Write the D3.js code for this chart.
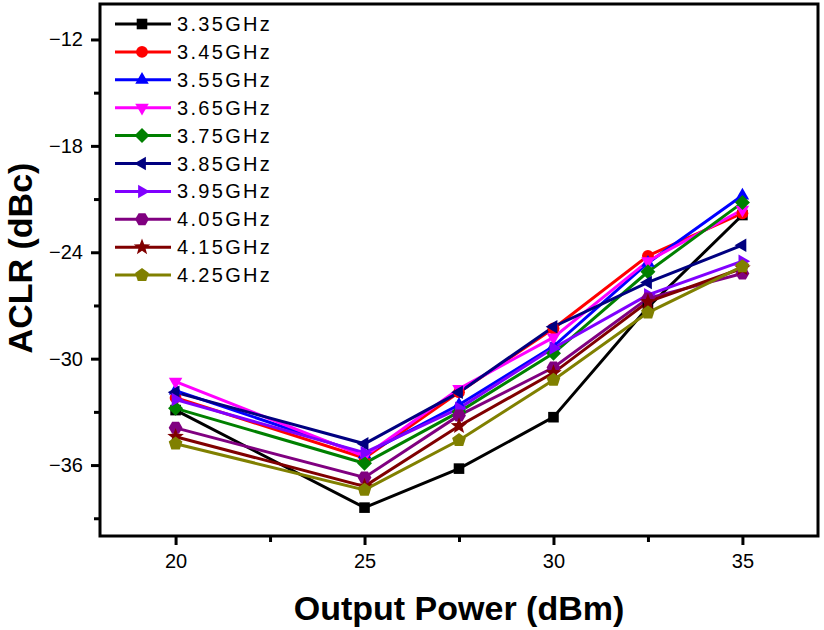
<!DOCTYPE html>
<html>
<head>
<meta charset="utf-8">
<script src="https://cdn.jsdelivr.net/npm/d3@7"></script>
<style>
  html, body { margin: 0; padding: 0; background: #fff; }
  svg { display: block; }
  text { font-family: Arial, "Liberation Sans", sans-serif; }
</style>
</head>
<body>
<svg id="chart" width="824" height="630"></svg>
<script>
const powers = [20, 25, 27.5, 30, 32.5, 35];
const seriesNames = ["3.35GHz","3.45GHz","3.55GHz","3.65GHz","3.75GHz","3.85GHz","3.95GHz","4.05GHz","4.15GHz","4.25GHz"];
const aclr335 = [-32.9, -38.4, -36.2, -33.3, -27.1, -21.9];
const aclr345 = [-32.2, -35.6, -31.9, -28.3, -24.2, -21.8];
const aclr355 = [-31.8, -35.4, -32.6, -29.3, -24.6, -20.8];
const aclr365 = [-31.3, -35.5, -31.7, -28.8, -24.5, -21.6];
const aclr375 = [-32.8, -35.9, -33.0, -29.7, -25.1, -21.2];
const aclr385 = [-31.9, -34.8, -31.9, -28.2, -25.7, -23.6];
const aclr395 = [-32.3, -35.3, -32.8, -29.4, -26.4, -24.5];
const aclr405 = [-33.9, -36.7, -33.2, -30.5, -26.6, -25.2];
const aclr415 = [-34.4, -37.2, -33.8, -30.8, -26.8, -24.9];
const aclr425 = [-34.8, -37.4, -34.6, -31.2, -27.4, -24.8];
const xTicks = [20, 25, 30, 35];
const xMinorTicks = [22.5, 27.5, 32.5];
const yTicks = [-12, -18, -24, -30, -36];
const yMinorTicks = [-15, -21, -27, -33, -39];

const allSeries = [aclr335, aclr345, aclr355, aclr365, aclr375, aclr385, aclr395, aclr405, aclr415, aclr425];
const colors = ["#000000","#ff0000","#0000ff","#ff00ff","#008000","#000080","#8000ff","#800080","#800000","#808000"];
const shapes = ["square","circle","up","down","diamond","left","right","hexagon","star","pentagon"];

const svg = d3.select("#chart");
const L = 100, R = 818, T = 4, B = 536;
const x = d3.scaleLinear().domain([18, 37]).range([L, R]);
const y = d3.scaleLinear().domain([-40, -10]).range([B, T]);

function poly(n, r, rot) {
  const pts = [];
  for (let i = 0; i < n; i++) {
    const a = rot + i * 2 * Math.PI / n;
    pts.push([r * Math.cos(a), r * Math.sin(a)]);
  }
  return "M" + pts.map(p => p[0].toFixed(2) + "," + p[1].toFixed(2)).join("L") + "Z";
}
function starPath(r) {
  const pts = [];
  for (let i = 0; i < 10; i++) {
    const a = -Math.PI / 2 + i * Math.PI / 5;
    const rr = i % 2 === 0 ? r : r * 0.42;
    pts.push([rr * Math.cos(a), rr * Math.sin(a)]);
  }
  return "M" + pts.map(p => p[0].toFixed(2) + "," + p[1].toFixed(2)).join("L") + "Z";
}
function markerPath(shape) {
  const s = 6;
  switch (shape) {
    case "square": return poly(4, s * 1.25, Math.PI / 4);
    case "circle": return d3.symbol(d3.symbolCircle, 110)();
    case "up": return poly(3, s * 1.3, -Math.PI / 2);
    case "down": return poly(3, s * 1.3, Math.PI / 2);
    case "diamond": return poly(4, s * 1.25, 0);
    case "left": return poly(3, s * 1.3, Math.PI);
    case "right": return poly(3, s * 1.3, 0);
    case "hexagon": return poly(6, s * 1.15, 0);
    case "star": return starPath(s * 1.45);
    case "pentagon": return poly(5, s * 1.2, -Math.PI / 2);
  }
}

// Axes ticks (outward) on left and bottom
const axisG = svg.append("g");
const xAxis = d3.axisBottom(x).tickValues(xTicks).tickSize(9).tickPadding(9).tickFormat(d3.format("d"));
const xg = axisG.append("g").attr("transform", `translate(0,${B})`).call(xAxis);
const xAxisMinor = d3.axisBottom(x).tickValues(xMinorTicks).tickSize(6).tickFormat("");
const xg2 = axisG.append("g").attr("transform", `translate(0,${B})`).call(xAxisMinor);
const yAxis = d3.axisLeft(y).tickValues(yTicks).tickSize(9).tickPadding(8).tickFormat(d3.format("d"));
const yg = axisG.append("g").attr("transform", `translate(${L},0)`).call(yAxis);
const yAxisMinor = d3.axisLeft(y).tickValues(yMinorTicks).tickSize(6).tickFormat("");
const yg2 = axisG.append("g").attr("transform", `translate(${L},0)`).call(yAxisMinor);
[xg, xg2, yg, yg2].forEach(g => {
  g.select(".domain").remove();
  g.selectAll(".tick line").attr("stroke", "#000").attr("stroke-width", 3);
  g.selectAll(".tick text").attr("fill", "#000").style("font-size", "20px")
    .style("font-family", "Arial, 'Liberation Sans', sans-serif");
});

// Series lines and markers
const line = d3.line().x((d, i) => x(powers[i])).y(d => y(d));
const plotG = svg.append("g");
allSeries.forEach((vals, k) => {
  plotG.append("path").attr("d", line(vals)).attr("fill", "none")
    .attr("stroke", colors[k]).attr("stroke-width", 3).attr("stroke-linejoin", "miter");
});
allSeries.forEach((vals, k) => {
  plotG.selectAll(null).data(vals).enter().append("path")
    .attr("d", markerPath(shapes[k]))
    .attr("transform", (d, i) => `translate(${x(powers[i])},${y(d)})`)
    .attr("fill", colors[k]);
});

// Frame
svg.append("rect").attr("x", L).attr("y", T).attr("width", R - L).attr("height", B - T)
  .attr("fill", "none").attr("stroke", "#000").attr("stroke-width", 3);

// Legend
const lg = svg.append("g");
seriesNames.forEach((name, k) => {
  const ly = 24 + k * 27.9;
  lg.append("line").attr("x1", 115).attr("x2", 171).attr("y1", ly).attr("y2", ly)
    .attr("stroke", colors[k]).attr("stroke-width", 3);
  lg.append("path").attr("d", markerPath(shapes[k])).attr("transform", `translate(142,${ly})`)
    .attr("fill", colors[k]);
  lg.append("text").attr("x", 177).attr("y", ly + 7).text(name)
    .style("font-size", "20px").style("letter-spacing", "2.3px").attr("fill", "#000");
});

// Axis titles
svg.append("text").attr("x", 459).attr("y", 620).attr("text-anchor", "middle")
  .style("font-size", "34px").style("font-weight", "bold").text("Output Power (dBm)");
svg.append("text").attr("transform", "translate(32,258) rotate(-90)").attr("text-anchor", "middle")
  .style("font-size", "34px").style("font-weight", "bold").text("ACLR (dBc)");
</script>
</body>
</html>
